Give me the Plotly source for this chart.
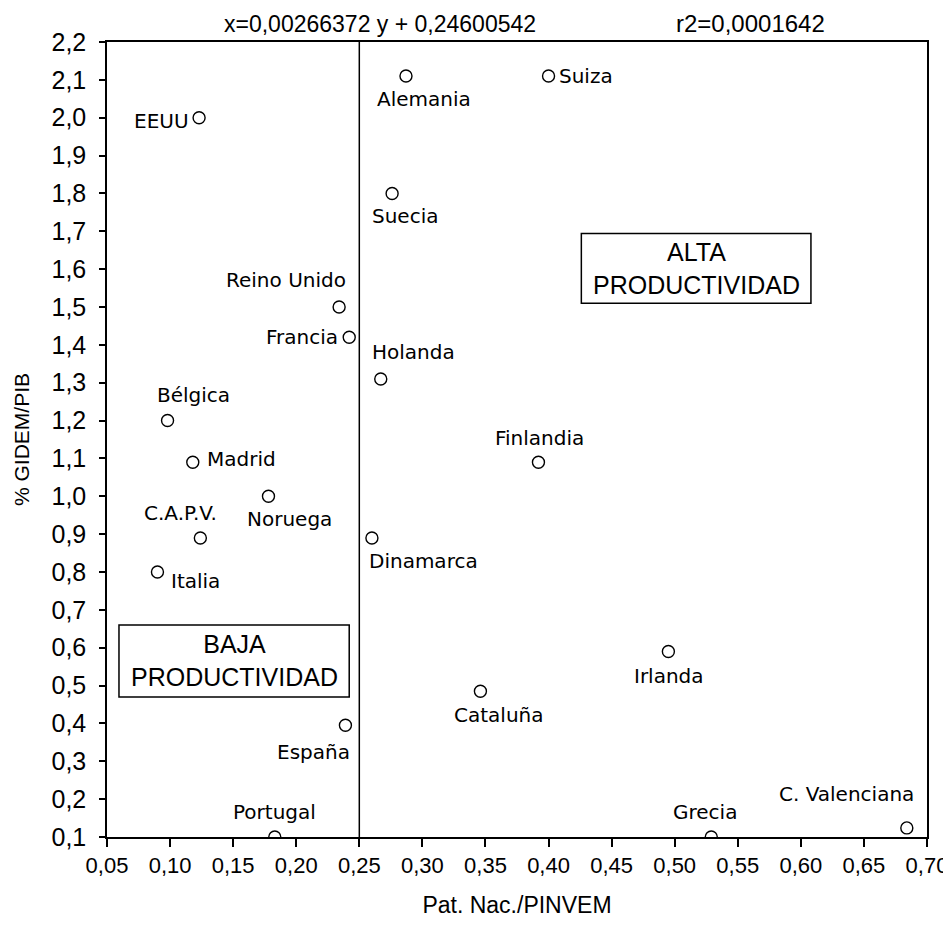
import plotly.graph_objects as go

# ---- data ----
countries = [
    "EEUU", "Alemania", "Suiza", "Suecia", "Reino Unido", "Francia", "Holanda",
    "Bélgica", "Madrid", "Noruega", "C.A.P.V.", "Italia", "Dinamarca",
    "Finlandia", "Irlanda", "Cataluña", "España", "Portugal", "Grecia",
    "C. Valenciana",
]
pat_pinvem = [
    0.123, 0.287, 0.400, 0.276, 0.234, 0.242, 0.267,
    0.098, 0.118, 0.178, 0.124, 0.090, 0.260,
    0.392, 0.495, 0.346, 0.239, 0.183, 0.529,
    0.684,
]
gidem_pib = [
    2.00, 2.11, 2.11, 1.80, 1.50, 1.42, 1.31,
    1.20, 1.09, 1.00, 0.89, 0.80, 0.89,
    1.09, 0.59, 0.485, 0.395, 0.10, 0.10,
    0.124,
]

x_ticks = [0.05, 0.10, 0.15, 0.20, 0.25, 0.30, 0.35, 0.40, 0.45, 0.50, 0.55, 0.60, 0.65, 0.70]
y_ticks = [0.1, 0.2, 0.3, 0.4, 0.5, 0.6, 0.7, 0.8, 0.9, 1.0, 1.1, 1.2, 1.3, 1.4, 1.5,
           1.6, 1.7, 1.8, 1.9, 2.0, 2.1, 2.2]

split_x = 0.25
regression_txt = "x=0,00266372 y + 0,24600542"
r2_txt = "r2=0,0001642"

# label placement: (xanchor, yanchor, xshift, yshift) in pixels
label_pos = [
    ("right", "middle", -8, -3), ("center", "top", 18, -9), ("left", "middle", 8, 0),
    ("center", "top", 13, -9), ("right", "bottom", 9, 13), ("right", "middle", -9, 0),
    ("center", "bottom", 33, 13),
    ("center", "bottom", 26, 12), ("left", "middle", 12, 3), ("center", "top", 21, -9),
    ("center", "bottom", -20, 11), ("left", "middle", 12, -9), ("left", "top", -5, -9),
    ("center", "bottom", 1, 10), ("center", "top", 1, -10), ("center", "top", 18, -10),
    ("right", "top", 7, -13), ("center", "bottom", 0, 11), ("center", "bottom", -6, 11),
    ("right", "bottom", 9, 20),
]

LABEL_FONT = dict(family="DejaVu Sans, Liberation Sans, Arial", size=20, color="black")
TICK_FONT = dict(family="Liberation Sans, Arial", size=25, color="black")
AXIS_FONT = dict(family="Liberation Sans, Arial", size=23, color="black")
HEAD_FONT = dict(family="Liberation Sans, Arial", size=23, color="black")
BOX_FONT = dict(family="Liberation Sans, Arial", size=25, color="black")

fig = go.Figure()

fig.add_trace(go.Scatter(
    x=pat_pinvem, y=gidem_pib, mode="markers",
    marker=dict(symbol="circle-open", size=12, color="black", line=dict(width=1.4)),
    showlegend=False, hoverinfo="skip",
))

for name, x, y, (xa, ya, dx, dy) in zip(countries, pat_pinvem, gidem_pib, label_pos):
    fig.add_annotation(
        x=x, y=y, text=name, showarrow=False, xanchor=xa, yanchor=ya,
        xshift=dx, yshift=dy, font=LABEL_FONT,
    )

# vertical split line
fig.add_shape(type="line", x0=split_x, x1=split_x, y0=0, y1=1, xref="x", yref="paper",
              line=dict(color="black", width=1.5))

# productivity boxes
fig.add_shape(type="rect", x0=0.426, x1=0.608, y0=1.51, y1=1.694,
              line=dict(color="black", width=1.5), fillcolor="white")
fig.add_annotation(x=0.517, y=1.602, text="ALTA<br>PRODUCTIVIDAD", showarrow=False,
                   font=BOX_FONT)
fig.add_shape(type="rect", x0=0.0595, x1=0.242, y0=0.47, y1=0.66,
              line=dict(color="black", width=1.5), fillcolor="white")
fig.add_annotation(x=0.151, y=0.565, text="BAJA<br>PRODUCTIVIDAD", showarrow=False,
                   font=BOX_FONT)

# header text
fig.add_annotation(x=0.333, y=1.0, xref="paper", yref="paper", xanchor="center",
                   yanchor="bottom", yshift=3, text=regression_txt, showarrow=False,
                   font=HEAD_FONT)
fig.add_annotation(x=0.785, y=1.0, xref="paper", yref="paper", xanchor="center",
                   yanchor="bottom", yshift=3, text=r2_txt, showarrow=False,
                   font=dict(HEAD_FONT, size=24))

fig.update_xaxes(
    range=[0.05, 0.70], tickvals=x_ticks, tickformat=".2f",
    showline=True, linecolor="black", linewidth=1.5, mirror=True,
    ticks="outside", ticklen=8, tickcolor="black", tickwidth=1.5,
    showgrid=False, zeroline=False, tickfont=dict(AXIS_FONT, size=22),
    title=dict(text="Pat. Nac./PINVEM", font=AXIS_FONT, standoff=20),
    automargin=False,
)
fig.update_yaxes(
    range=[0.1, 2.2], tickvals=y_ticks, tickformat=".1f",
    showline=True, linecolor="black", linewidth=1.5, mirror=True,
    ticks="outside", ticklen=6, tickcolor="black", tickwidth=1.5,
    ticklabelstandoff=8,
    showgrid=False, zeroline=False, tickfont=TICK_FONT,
    title=dict(text="% GIDEM/PIB", font=dict(AXIS_FONT, size=21), standoff=16),
    automargin=False,
)

# the page body adds an 8px offset, so the figure is sized to end at the window edge
fig.update_layout(
    width=943, height=921,
    margin=dict(l=99, r=24, t=34, b=92),
    plot_bgcolor="white", paper_bgcolor="white",
    separators=", ",
)

fig.write_html("out.html")
